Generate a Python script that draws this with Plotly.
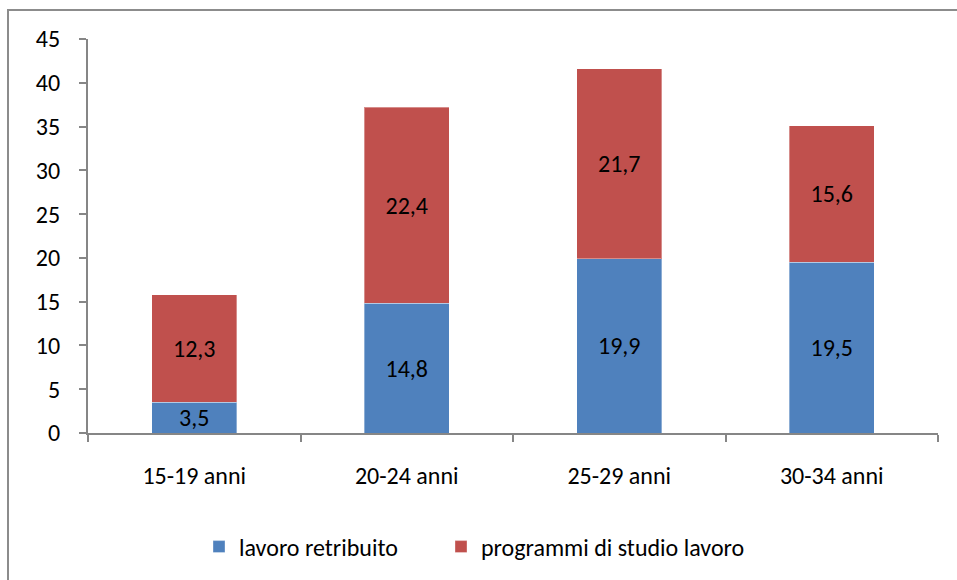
import plotly.graph_objects as go

# Age groups and the two stacked components (%)
categories = ["15-19 anni", "20-24 anni", "25-29 anni", "30-34 anni"]
lavoro_retribuito = [3.5, 14.8, 19.9, 19.5]
programmi_studio_lavoro = [12.3, 22.4, 21.7, 15.6]
y_ticks = [0, 5, 10, 15, 20, 25, 30, 35, 40, 45]

W, H = 957, 580
M_L, M_R, M_T, M_B = 88, 19, 39, 146
PW, PH = W - M_L - M_R, H - M_T - M_B

FONT = "Carlito, Lato, 'Liberation Sans', sans-serif"
FS = 24


def px_to_paper(x, y):
    return (x - M_L) / PW, (H - M_B - y) / PH


fig = go.Figure()
fig.add_trace(go.Bar(
    x=categories, y=lavoro_retribuito, name="lavoro retribuito", legend="legend",
    marker=dict(color="#4F81BD", line=dict(color="rgba(255,255,255,0.35)", width=1)),
    text=lavoro_retribuito, texttemplate="%{y:.1f}", textposition="inside",
    insidetextanchor="middle", constraintext="none", textangle=0,
    textfont=dict(color="black", size=FS, family=FONT),
))
fig.add_trace(go.Bar(
    x=categories, y=programmi_studio_lavoro, name="programmi di studio lavoro",
    legend="legend2",
    marker=dict(color="#C0504D", line=dict(color="rgba(255,255,255,0.35)", width=1)),
    text=programmi_studio_lavoro, texttemplate="%{y:.1f}", textposition="inside",
    insidetextanchor="middle", constraintext="none", textangle=0,
    textfont=dict(color="black", size=FS, family=FONT),
))

# Outer chart frame
x0, y0 = px_to_paper(8, 10)
x1, y1 = px_to_paper(W + 5, H + 5)
fig.add_shape(type="rect", xref="paper", yref="paper", x0=x0, y0=y1, x1=x1, y1=y0,
              line=dict(color="#8c8c8c", width=2), fillcolor="rgba(0,0,0,0)", layer="above")


def legend_at(px_x, px_y):
    lx, ly = px_to_paper(px_x, px_y)
    return dict(orientation="h", x=lx, y=ly, xanchor="left", yanchor="middle",
                font=dict(size=FS, family=FONT, color="black"), itemwidth=30,
                bgcolor="rgba(0,0,0,0)")


fig.update_layout(
    width=W, height=H,
    margin=dict(l=M_L, r=M_R, t=M_T, b=M_B),
    barmode="stack", bargap=0.6,
    separators=", ",
    paper_bgcolor="white", plot_bgcolor="white",
    font=dict(family=FONT, size=FS, color="black"),
    showlegend=True,
    legend=legend_at(199, 547),
    legend2=legend_at(441, 547),
    xaxis=dict(showline=True, linecolor="#868686", linewidth=2,
               ticks="outside", tickson="boundaries", ticklen=7, tickwidth=2,
               tickcolor="#868686", ticklabelstandoff=20, showgrid=False,
               tickfont=dict(size=FS, family=FONT, color="black")),
    yaxis=dict(range=[0, 45], tickvals=y_ticks, showline=True, linecolor="#868686",
               linewidth=2, ticks="outside", ticklen=7, tickwidth=2, tickcolor="#868686",
               ticklabelstandoff=14, showgrid=False, zeroline=False,
               tickfont=dict(size=FS, family=FONT, color="black")),
)

fig.write_html("out.html")
